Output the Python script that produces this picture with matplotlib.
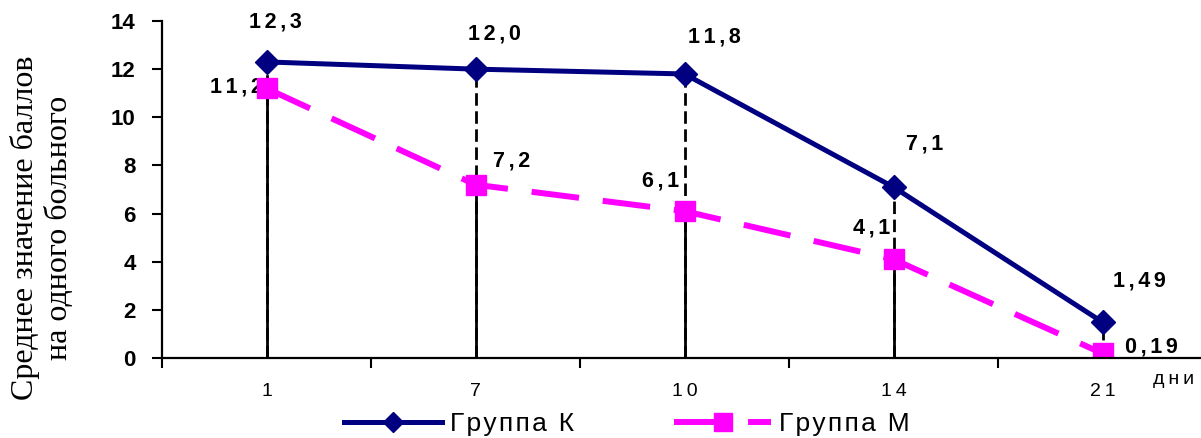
import numpy as np
import matplotlib.pyplot as plt
from matplotlib.lines import Line2D

days = ['1', '7', '10', '14', '21']
group_k = [12.3, 12.0, 11.8, 7.1, 1.49]
group_m = [11.2, 7.2, 6.1, 4.1, 0.19]
labels_k = ['12,3', '12,0', '11,8', '7,1', '1,49']
labels_m = ['11,2', '7,2', '6,1', '4,1', '0,19']

# label offsets in pixels (dx, dy)
offs_k = [(9, 40), (19, 35), (30, 37), (31, 43), (37, 41)]
offs_m = [(-30, 1), (36, 24), (-24, 30), (-22, 31), (49, 6)]

NAVY = '#000080'
MAGENTA = '#FF00FF'
THIN = '\u2009'
SIXTH = '\u2006'
HAIR = '\u200a'


def spaced(s, sep=THIN):
    return sep.join(s)


plt.rcParams['font.family'] = 'Liberation Sans'

fig = plt.figure(figsize=(12.01, 4.38), dpi=100)
ax = fig.add_axes([162 / 1201, 1 - 358 / 438, 1045 / 1201, 337 / 438])

x = np.arange(len(days))

# drop lines
ax.vlines(x, 0, group_m, color='black', lw=2, zorder=1)
ax.vlines(x, 0, group_k, color='black', lw=2, linestyles=(0, (4.5, 2)), zorder=1)

ax.plot(x, group_k, color=NAVY, lw=3.6, marker='D', markersize=12.5, zorder=3)
ax.plot(x, group_m, color=MAGENTA, lw=4.3, ls=(0, (8, 4)), marker='s',
        markersize=14.5, zorder=2)

for xi, v, t, (dx, dy) in zip(x, group_k, labels_k, offs_k):
    ax.annotate(spaced(t, SIXTH), (xi, v), xytext=(dx, dy), textcoords='offset pixels',
                ha='center', va='center', fontsize=15.5, fontweight='bold', zorder=1.5)
for xi, v, t, (dx, dy) in zip(x, group_m, labels_m, offs_m):
    ax.annotate(spaced(t, SIXTH), (xi, v), xytext=(dx, dy), textcoords='offset pixels',
                ha='center', va='center', fontsize=15.5, fontweight='bold', zorder=1.5)

ax.set_xlim(-0.5, 4.5)
ax.set_ylim(0, 14)
ax.set_yticks(range(0, 15, 2))
ax.set_yticklabels([str(v) for v in range(0, 15, 2)], fontsize=16, fontweight='bold')
ax.tick_params(axis='y', direction='out', length=7, width=1.5, pad=12)

ax.set_xticks(np.arange(-0.5, 5, 1))
ax.set_xticklabels([])
ax.tick_params(axis='x', which='major', direction='out', length=7, width=1.5)
ax.set_xticks(x, minor=True)
ax.set_xticklabels([spaced(d) for d in days], minor=True, fontsize=14)
ax.tick_params(axis='x', which='minor', length=0, pad=18)

for side in ['top', 'right']:
    ax.spines[side].set_visible(False)
for side in ['left', 'bottom']:
    ax.spines[side].set_linewidth(1.6)

fig.text(1174 / 1201, 1 - 380 / 438, spaced('дни'), ha='center', va='center',
         fontsize=14)

fig.text(42 / 1201, 1 - 228 / 438, 'Среднее значение баллов\nна одного больного',
         rotation=90, ha='center', va='center', ma='center', fontsize=23,
         family='Liberation Serif', linespacing=1.2)

handles = [
    Line2D([], [], color=NAVY, lw=3.6, marker='D', markersize=10),
    Line2D([], [], color=MAGENTA, lw=4.3, ls=(0, (9.7, 2.7)), marker='s', markersize=13),
]
fig.legend(handles, [spaced('Группа К', HAIR), spaced('Группа М', HAIR)],
           loc='center', bbox_to_anchor=(627 / 1201, 0.032), ncol=2, frameon=False,
           fontsize=19, handlelength=3.7, columnspacing=3.8, handletextpad=0.3,
           borderpad=0.1)

fig.savefig('out.png', dpi=100)
